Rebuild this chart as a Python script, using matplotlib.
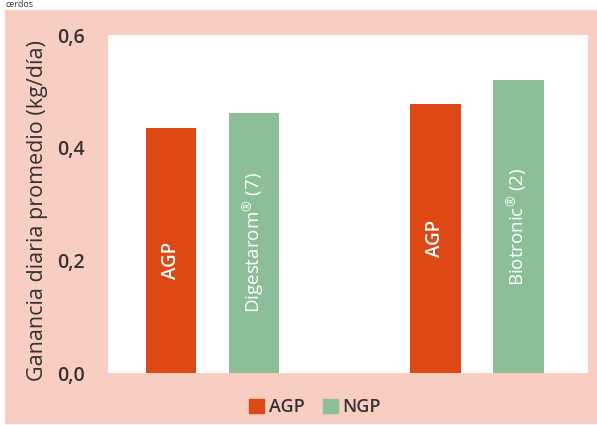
import matplotlib.pyplot as plt
from matplotlib.patches import Rectangle, Patch

# Data
groups = ["AGP", "NGP", "AGP", "NGP"]
bar_labels = ["AGP", r"$\mathregular{Digestarom^{®}}$ (7)", "AGP",
              r"$\mathregular{Biotronic^{®}}$ (2)"]
values = [0.435, 0.462, 0.478, 0.520]
positions = [0, 1, 3.18, 4.18]
yticks = [0.0, 0.2, 0.4, 0.6]
ytick_labels = ["0,0", "0,2", "0,4", "0,6"]

red = "#DD4814"
green = "#8CBE97"
pink = "#F8CEC2"
dark = "#333333"
colors = {"AGP": red, "NGP": green}

plt.rcParams["font.family"] = ["Open Sans", "DejaVu Sans"]

fig = plt.figure(figsize=(5.97, 4.25), dpi=100)
fig.patches.append(Rectangle((5 / 597, 2 / 425), 592 / 597, 413 / 425,
                             transform=fig.transFigure, color=pink, zorder=-5))
# caption fragment above the box
fig.text(0.01, 0.999, "cerdos", fontsize=6.5, color=dark, va="top")

ax = fig.add_axes([108 / 597, 1 - 373 / 425, 480 / 597, 338 / 425])
ax.set_facecolor("white")
ax.bar(positions, values, width=0.61, color=[colors[g] for g in groups], zorder=2)

label_y = [0.46, 0.5, 0.5, 0.5]
for x, v, lab, f in zip(positions, values, bar_labels, label_y):
    ax.text(x, v * f, lab, rotation=90, ha="center", va="center",
            color="white", fontsize=13.5,
            fontweight="semibold" if lab == "AGP" else "normal")

ax.set_xlim(-0.76, 5.02)
ax.set_ylim(0, 0.6)
ax.set_xticks([])
ax.set_yticks(yticks)
ax.set_yticklabels(ytick_labels, fontsize=14, color=dark, fontweight="semibold")
ax.tick_params(axis="y", length=0, pad=17)
for s in ax.spines.values():
    s.set_visible(False)
ax.set_ylabel("Ganancia diaria promedio (kg/día)", fontsize=15.5, color=dark)
ax.yaxis.set_label_coords(-0.124, 0.482)

handles = [Patch(color=red, label="AGP"), Patch(color=green, label="NGP")]
fig.legend(handles=handles, loc="center", bbox_to_anchor=(315 / 597, 1 - 407 / 425),
           ncol=2, frameon=False, handlelength=0.85, handleheight=0.85,
           handletextpad=0.25, columnspacing=1.0, labelcolor=dark,
           prop={"weight": "semibold", "size": 13})

fig.savefig("out.png", dpi=100)
